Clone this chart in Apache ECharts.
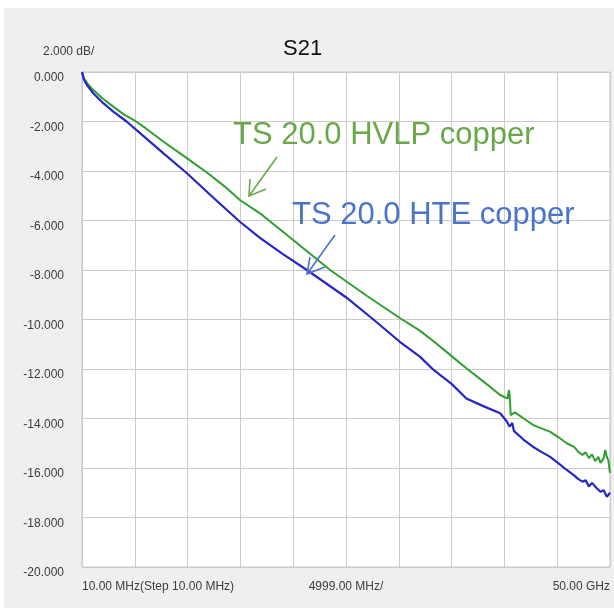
<!DOCTYPE html>
<html>
<head>
<meta charset="utf-8">
<script src="https://cdn.jsdelivr.net/npm/echarts@6/dist/echarts.min.js"></script>
<style>
html,body{margin:0;padding:0;background:#ffffff;width:614px;height:608px;overflow:hidden;}
#chart{position:absolute;left:4px;top:8px;width:610px;height:600px;background:#efefef;}
</style>
</head>
<body>
<div id="chart"></div>
<script>
// ---- data (frequency in GHz, S21 in dB) ----
const hvlpFreq = [0.01,0.2,0.5,1.07,2,2.97,4,4.92,6,7.7,9.97,11.96,13.5,14.96,16.86,20,23.5,27,30.1,32,33.5,35.2,36.4,38.0,39.6,40.3,40.42,40.5,40.6,41.0,42.0,42.7,43.5,44.3,45.1,45.9,46.6,47.0,47.4,47.7,48.0,48.3,48.6,48.9,49.1,49.4,49.55,49.7,49.85,50];
const hvlpDb   = [0,-0.27,-0.45,-0.73,-1.08,-1.4,-1.72,-1.94,-2.26,-2.81,-3.49,-4.1,-4.62,-5.17,-5.71,-6.79,-8.0,-9.05,-9.94,-10.45,-10.95,-11.55,-11.97,-12.5,-13.05,-13.2,-12.85,-13.05,-13.86,-13.75,-14.05,-14.26,-14.4,-14.53,-14.75,-15.0,-15.15,-15.35,-15.47,-15.36,-15.6,-15.45,-15.72,-15.55,-15.8,-15.6,-15.27,-15.55,-15.7,-16.2];
const hteFreq  = [0.01,0.2,0.5,1.07,2,2.97,4.23,6,7.7,9.97,12.5,14.96,16.86,19,21.3,25,27.6,30.1,32,33.3,35,36.4,38,39.6,40.2,40.5,40.75,40.9,41.8,42.7,43.5,44.3,45.1,45.9,46.6,47.0,47.4,47.7,48.0,48.3,48.7,49.1,49.4,49.7,50];
const hteDb    = [0,-0.31,-0.54,-0.86,-1.25,-1.6,-2.0,-2.65,-3.28,-4.1,-5.1,-6.05,-6.7,-7.35,-8.0,-9.1,-10.0,-10.9,-11.5,-12.04,-12.6,-13.19,-13.5,-13.79,-14.1,-14.33,-14.18,-14.5,-14.85,-15.14,-15.35,-15.54,-15.8,-16.08,-16.3,-16.45,-16.55,-16.5,-16.75,-16.6,-16.8,-16.96,-16.9,-17.16,-17.0];
const seriesNames = ['TS 20.0 HVLP copper','TS 20.0 HTE copper'];
const yTicks = {min:-20, max:0, step:2};
const xTickLabels = {0:'10.00 MHz(Step 10.00 MHz)', 5:'4999.00 MHz/', 10:'50.00 GHz'};
const titleText = 'S21';
const yUnitText = '2.000 dB/';

const pair = (xs, ys) => xs.map((x,i)=>[x, ys[i]]);

const chart = echarts.init(document.getElementById('chart'), null, {renderer:'canvas'});
const labelColor = '#3c3c3c';
chart.setOption({
  animation:false,
  backgroundColor:'#efefef',
  textStyle:{fontFamily:'Liberation Sans, Arial, sans-serif'},
  title:{text:titleText, left:279, top:30, padding:0,
    textStyle:{fontSize:22, fontWeight:'normal', color:'#111', fontFamily:'Liberation Sans, Arial, sans-serif'}},
  grid:{left:78, right:4, top:64, bottom:41, show:true, backgroundColor:'#ffffff', borderColor:'#c4c4c4', borderWidth:1},
  xAxis:[
    {type:'value', min:0.01, max:50, show:false},
    {type:'value', min:0, max:10, interval:1, position:'bottom',
      axisLine:{show:false}, axisTick:{show:false},
      splitLine:{show:true, lineStyle:{color:'#cbcbcb', width:1}},
      axisLabel:{fontSize:12, color:labelColor, margin:14,
        alignMinLabel:'left', alignMaxLabel:'right', showMinLabel:true, showMaxLabel:true,
        formatter:v=> xTickLabels[v] !== undefined ? xTickLabels[v] : ''}}
  ],
  yAxis:{type:'value', min:yTicks.min, max:yTicks.max, interval:yTicks.step,
    axisLine:{show:false}, axisTick:{show:false},
    splitLine:{show:true, lineStyle:{color:'#cbcbcb', width:1}},
    axisLabel:{fontSize:12, color:labelColor, margin:18, verticalAlign:'top', lineHeight:12, padding:[0,0,0,0],
      formatter:v=>v.toFixed(3)}},
  series:[
    {name:seriesNames[0], type:'line', xAxisIndex:0, data:pair(hvlpFreq,hvlpDb), showSymbol:false,
      lineStyle:{color:'#2f9f2f', width:2}, itemStyle:{color:'#2f9f2f'}, z:3},
    {name:seriesNames[1], type:'line', xAxisIndex:0, data:pair(hteFreq,hteDb), showSymbol:false,
      lineStyle:{color:'#2626c8', width:2.2}, itemStyle:{color:'#2626c8'}, z:4}
  ],
  graphic:[
    {type:'text', left:39, top:38, style:{text:yUnitText, fontSize:12, fill:labelColor, fontFamily:'Liberation Sans, Arial, sans-serif'}},
    {type:'text', x:229, y:127, z:10, style:{text:seriesNames[0], fontSize:31, fill:'#68a848', verticalAlign:'middle', align:'left', fontFamily:'Liberation Sans, Arial, sans-serif'}},
    {type:'text', x:288, y:207, z:10, style:{text:seriesNames[1], fontSize:31, fill:'#4b74c9', verticalAlign:'middle', align:'left', fontFamily:'Liberation Sans, Arial, sans-serif'}},
    {type:'polyline', z:10, shape:{points:[[273,149],[245,188]]}, style:{stroke:'#6aa84f', lineWidth:1.6, fill:null}},
    {type:'polyline', z:10, shape:{points:[[246,171],[245,188],[262,181]]}, style:{stroke:'#6aa84f', lineWidth:1.6, fill:null}},
    {type:'polyline', z:10, shape:{points:[[331,227],[303,266]]}, style:{stroke:'#4a72c8', lineWidth:1.6, fill:null}},
    {type:'polyline', z:10, shape:{points:[[306,249],[303,266],[321,259]]}, style:{stroke:'#4a72c8', lineWidth:1.6, fill:null}}
  ]
});
</script>
</body>
</html>
